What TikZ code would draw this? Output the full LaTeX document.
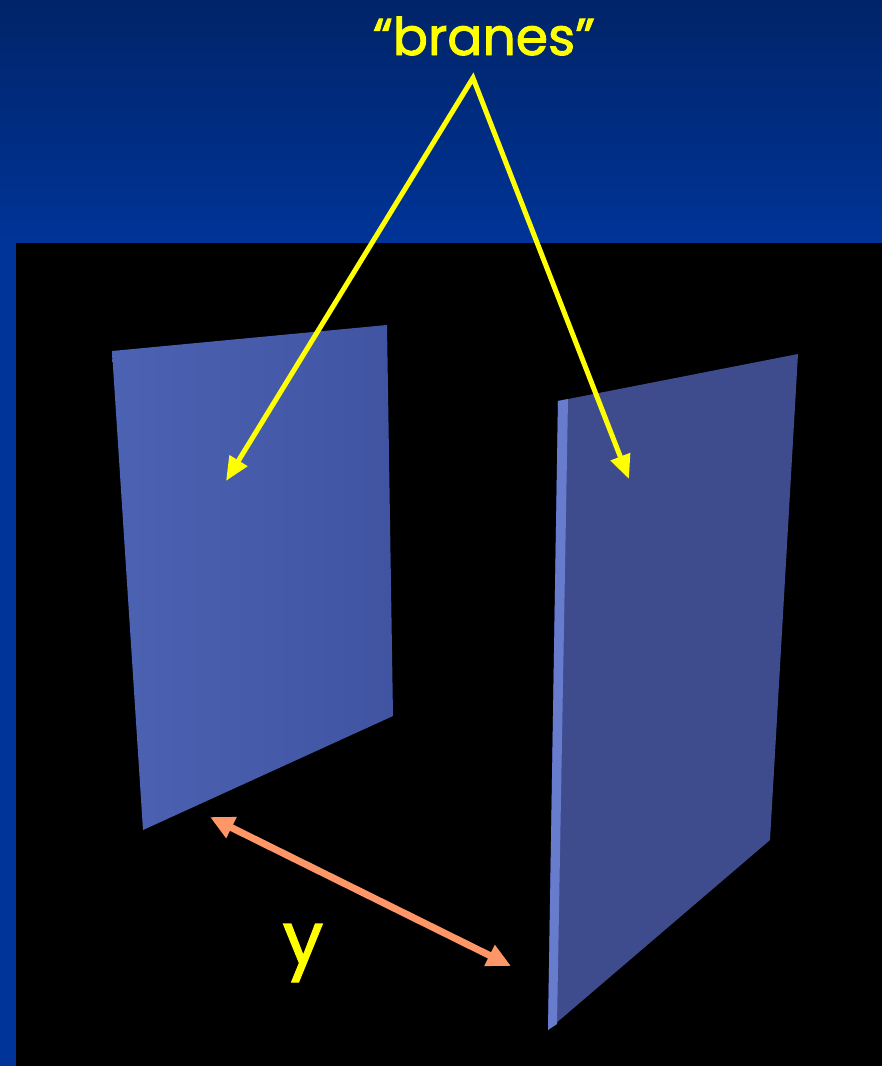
\documentclass[tikz,border=0pt]{standalone}
\usepackage{fontspec}
\setmainfont{Poppins}[FakeBold=1.8]
\usetikzlibrary{arrows.meta}
\definecolor{navytop}{RGB}{0,36,104}
\definecolor{navybot}{RGB}{0,52,152}
\definecolor{branelt}{RGB}{76,98,178}
\definecolor{branedk}{RGB}{64,84,162}
\definecolor{braneback}{RGB}{62,76,142}
\definecolor{braneedge}{RGB}{104,124,206}
\definecolor{salmon}{RGB}{255,150,104}
\definecolor{brightyellow}{RGB}{255,255,0}
\begin{document}
\begin{tikzpicture}[x=1pt,y=-1pt,
    lbl/.style={text=brightyellow,font=\fontsize{52}{52}\selectfont,inner sep=0pt},
    ylarrow/.style={draw=brightyellow,line width=5pt,{Triangle[length=24pt,width=20pt]}-{Triangle[length=24pt,width=20pt]}},
    sep/.style={draw=salmon,line width=7pt,{Triangle[length=24pt,width=22pt]}-{Triangle[length=24pt,width=22pt]}}]
  \useasboundingbox (0,0) rectangle (882,1066);
  \shade[top color=navytop,bottom color=navybot] (0,0) rectangle (882,243);
  \fill[navybot] (0,243) rectangle (16,1066);
  \fill[black] (16,243) rectangle (882,1066);
  \shade[left color=branelt,right color=branedk] (112,351) -- (387,325) -- (393,716) -- (143,830) -- cycle;
  \fill[braneback] (558,401) -- (798,354) -- (770,840) -- (548,1030) -- cycle;
  \fill[braneedge] (558,401) -- (568,399) -- (557,1024) -- (548,1030) -- cycle;
  \node[lbl] (branes) at (484,36) {“branes”};
  \coordinate (apex) at (473,78);
  \coordinate (lefttip) at (226,481);
  \coordinate (righttip) at (629,479);
  \draw[ylarrow] (lefttip) -- (apex) -- (righttip);
  \coordinate (near) at (210,817);
  \coordinate (far) at (511,966);
  \draw[sep] (near) -- (far);
  \node[lbl,font=\fontsize{72}{72}\selectfont] (ylabel) at (303,953) {y};
\end{tikzpicture}
\end{document}
